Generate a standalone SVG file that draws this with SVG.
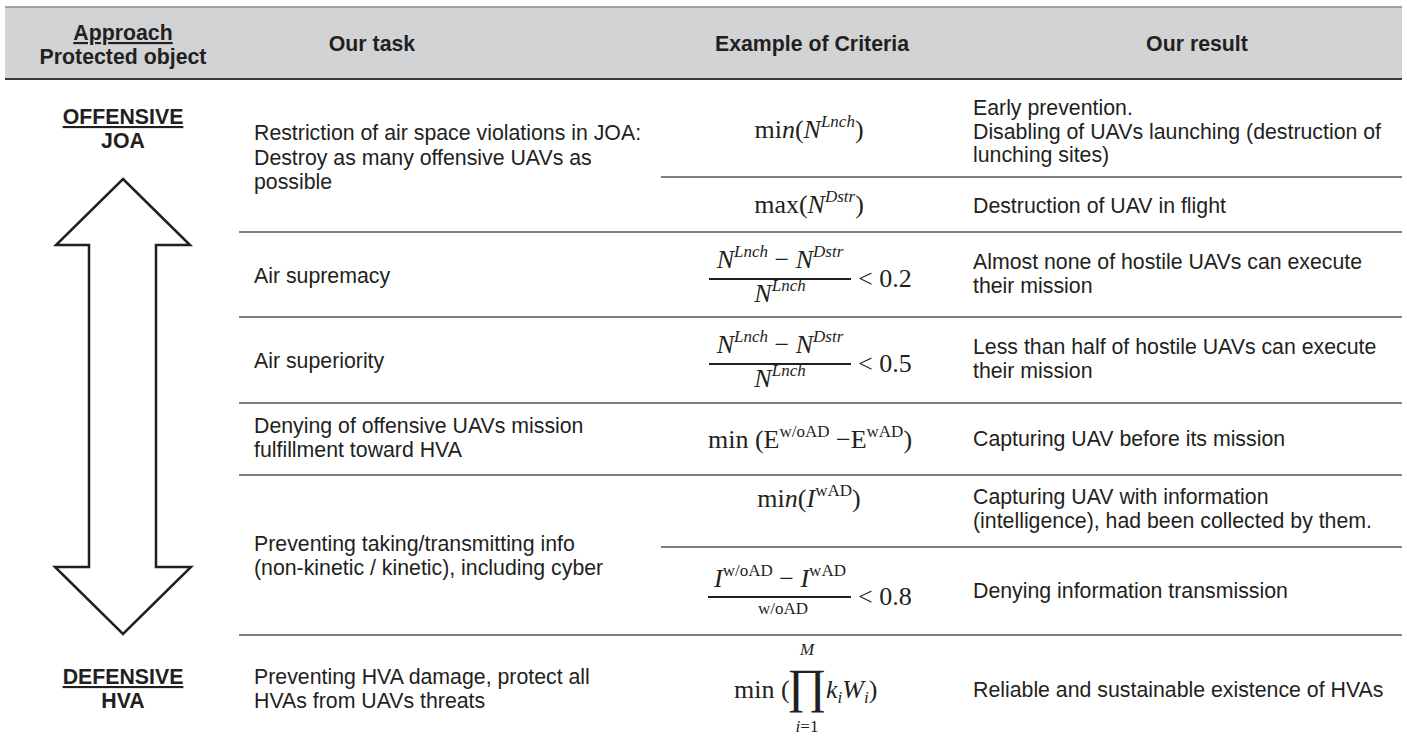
<svg xmlns="http://www.w3.org/2000/svg" width="1407" height="738" viewBox="0 0 1407 738">
<style>
.t{font-family:"Liberation Sans",Arial,sans-serif;font-size:21.3px;fill:#231f20}
.b{font-family:"Liberation Sans",Arial,sans-serif;font-size:21.3px;font-weight:bold;fill:#231f20}
.u{text-decoration:underline}
.c{text-anchor:middle}
.m{font-family:"Liberation Serif","Times New Roman",serif;font-size:26px;fill:#231f20}
.s{font-size:17px}
.i{font-style:italic}
.rule{stroke:#555;stroke-width:1.5}
.bar{stroke:#231f20;stroke-width:1.8}
</style>
<rect width="1407" height="738" fill="#fff"/>
<g id="header">
<rect x="5" y="7" width="1397" height="72" fill="#d1d3d4"/>
<line x1="5" y1="7" x2="1402" y2="7" stroke="#8a8a8a" stroke-width="1.5"/>
<line x1="5" y1="79" x2="1402" y2="79" stroke="#3a3a3a" stroke-width="2"/>
<text class="b c u" x="123" y="40">Approach</text>
<text class="b c" x="123" y="64">Protected object</text>
<text class="b c" x="372" y="51">Our task</text>
<text class="b c" x="812" y="51">Example of Criteria</text>
<text class="b c" x="1197" y="51">Our result</text>
</g>
<g id="connectors">
<line class="rule" x1="661" y1="177" x2="1402" y2="177"/>
<line class="rule" x1="239" y1="232" x2="1402" y2="232"/>
<line class="rule" x1="239" y1="317" x2="1402" y2="317"/>
<line class="rule" x1="239" y1="403" x2="1402" y2="403"/>
<line class="rule" x1="239" y1="475" x2="1402" y2="475"/>
<line class="rule" x1="661" y1="547" x2="1402" y2="547"/>
<line class="rule" x1="239" y1="635" x2="1402" y2="635"/>
</g>
<g id="approach">
<text class="b c u" x="123" y="124">OFFENSIVE</text>
<text class="b c" x="123" y="148">JOA</text>
<polygon points="123,179 190,245 156,245 156,567 191,567 123,634 55,567 89,567 89,245 56,245" fill="#fff" stroke="#231f20" stroke-width="2.5" stroke-linejoin="miter"/>
<text class="b c u" x="123" y="684">DEFENSIVE</text>
<text class="b c" x="123" y="708">HVA</text>
</g>
<g id="tasks">
<text class="t" x="254" y="140">Restriction of air space violations in JOA:</text>
<text class="t" x="254" y="164.5">Destroy as many offensive UAVs as</text>
<text class="t" x="254" y="189">possible</text>
<text class="t" x="254" y="283">Air supremacy</text>
<text class="t" x="254" y="368">Air superiority</text>
<text class="t" x="254" y="433">Denying of offensive UAVs mission</text>
<text class="t" x="254" y="457">fulfillment toward HVA</text>
<text class="t" x="254" y="551">Preventing taking/transmitting info</text>
<text class="t" x="254" y="575">(non-kinetic / kinetic), including cyber</text>
<text class="t" x="254" y="684">Preventing HVA damage, protect all</text>
<text class="t" x="254" y="708">HVAs from UAVs threats</text>
</g>
<g id="criteria">
<text class="m c" x="809" y="138">mi<tspan class="i">n</tspan>(<tspan class="i">N</tspan><tspan class="s i" dy="-11">Lnch</tspan><tspan dy="11">)</tspan></text>
<text class="m c" x="809" y="213">max(<tspan class="i">N</tspan><tspan class="s i" dy="-11">Dstr</tspan><tspan dy="11">)</tspan></text>
<text class="m c" x="780" y="268"><tspan class="i">N</tspan><tspan class="s i" dy="-11">Lnch</tspan><tspan dy="11"> − </tspan><tspan class="i">N</tspan><tspan class="s i" dy="-11">Dstr</tspan></text>
<line class="bar" x1="709" y1="279" x2="851" y2="279"/>
<text class="m c" x="780" y="302"><tspan class="i">N</tspan><tspan class="s i" dy="-11">Lnch</tspan></text>
<text class="m" x="858" y="287">&lt; 0.2</text>
<text class="m c" x="780" y="353"><tspan class="i">N</tspan><tspan class="s i" dy="-11">Lnch</tspan><tspan dy="11"> − </tspan><tspan class="i">N</tspan><tspan class="s i" dy="-11">Dstr</tspan></text>
<line class="bar" x1="709" y1="364" x2="851" y2="364"/>
<text class="m c" x="780" y="387"><tspan class="i">N</tspan><tspan class="s i" dy="-11">Lnch</tspan></text>
<text class="m" x="858" y="372">&lt; 0.5</text>
<text class="m c" x="810" y="448">min (E<tspan class="s" dy="-11">w/oAD</tspan><tspan dy="11"> −E</tspan><tspan class="s" dy="-11">wAD</tspan><tspan dy="11">)</tspan></text>
<text class="m c" x="809" y="507">mi<tspan class="i">n</tspan>(<tspan class="i">I</tspan><tspan class="s" dy="-11">wAD</tspan><tspan dy="11">)</tspan></text>
<text class="m c" x="780" y="587"><tspan class="i">I</tspan><tspan class="s" dy="-11">w/oAD</tspan><tspan dy="11"> − </tspan><tspan class="i">I</tspan><tspan class="s" dy="-11">wAD</tspan></text>
<line class="bar" x1="708" y1="597" x2="851" y2="597"/>
<text class="m c s" x="783" y="614">w/oAD</text>
<text class="m" x="858" y="605">&lt; 0.8</text>
<text class="m" x="734" y="698">min (</text>
<text class="m c" x="807" y="702" style="font-size:48px">∏</text>
<text class="m c s i" x="807" y="655">M</text>
<text class="m c s" x="807" y="732"><tspan class="i">i</tspan>=1</text>
<text class="m" x="826" y="698"><tspan class="i">k</tspan><tspan class="s i" dy="5">i</tspan><tspan class="i" dy="-5">W</tspan><tspan class="s i" dy="5">i</tspan><tspan dy="-5">)</tspan></text>
</g>
<g id="results">
<text class="t" x="973" y="115">Early prevention.</text>
<text class="t" x="973" y="138.5">Disabling of UAVs launching (destruction of</text>
<text class="t" x="973" y="162">lunching sites)</text>
<text class="t" x="973" y="213">Destruction of UAV in flight</text>
<text class="t" x="973" y="269">Almost none of hostile UAVs can execute</text>
<text class="t" x="973" y="293">their mission</text>
<text class="t" x="973" y="354">Less than half of hostile UAVs can execute</text>
<text class="t" x="973" y="378">their mission</text>
<text class="t" x="973" y="446">Capturing UAV before its mission</text>
<text class="t" x="973" y="504">Capturing UAV with information</text>
<text class="t" x="973" y="528">(intelligence), had been collected by them.</text>
<text class="t" x="973" y="598">Denying information transmission</text>
<text class="t" x="973" y="697">Reliable and sustainable existence of HVAs</text>
</g>
</svg>
